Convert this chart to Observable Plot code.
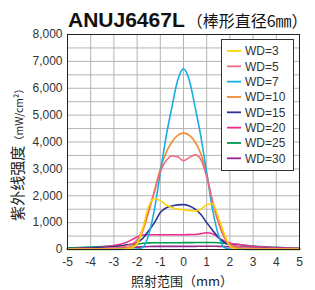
<!DOCTYPE html>
<html>
<head>
<meta charset="utf-8">
<script src="https://cdn.jsdelivr.net/npm/d3@7"></script>
<script src="https://cdn.jsdelivr.net/npm/@observablehq/plot@0.6"></script>
<style>
html,body{margin:0;padding:0;background:#fff;}
#chart{width:315px;height:290px;}
</style>
</head>
<body>
<div id="chart"></div>
<script>
const xs = [-5,-4.5,-4,-3.5,-3,-2.5,-2.25,-2,-1.75,-1.5,-1.25,-1,-0.75,-0.5,-0.25,0,0.25,0.5,0.75,1,1.25,1.5,1.75,2,2.25,2.5,3,3.5,4,4.5,5];
const wd3  = [5,5,5,5,10,20,50,200,800,1600,1900,1820,1660,1560,1500,1480,1450,1430,1500,1660,1710,1200,600,120,20,10,5,5,5,5,5];
const wd5  = [20,25,30,40,60,120,200,350,780,1450,2150,2900,3300,3480,3450,3300,3420,3520,3350,2700,1800,1050,500,200,120,80,50,40,30,25,20];
const wd7  = [5,5,5,5,5,8,10,15,80,550,1500,2850,4200,5300,6300,6720,6300,5300,4200,2850,1500,550,80,15,10,8,5,5,5,5,5];
const wd10 = [10,10,15,20,30,50,100,250,700,1400,2200,3000,3600,4000,4250,4330,4250,4000,3550,2800,1800,1000,450,150,60,40,25,20,15,10,10];
const wd15 = [30,40,50,70,100,160,200,260,420,700,1000,1380,1550,1620,1660,1670,1620,1500,1300,1000,720,450,270,170,120,90,60,45,35,30,25];
const wd20 = [30,45,60,90,150,250,350,470,540,550,550,550,550,550,550,550,555,560,590,625,590,450,320,240,200,170,120,90,70,55,45];
const wd25 = [60,75,90,110,130,160,180,200,230,245,250,250,250,250,250,255,255,258,260,262,260,250,230,210,190,170,130,100,80,60,50];
const wd30 = [20,25,30,40,50,65,75,90,100,110,115,115,115,118,118,118,118,118,120,120,120,118,110,100,90,80,60,45,35,28,25];
const seriesNames = ["WD=3","WD=5","WD=7","WD=10","WD=15","WD=20","WD=25","WD=30"];
const seriesValues = [wd3,wd5,wd7,wd10,wd15,wd20,wd25,wd30];
const seriesColors = ["#ffd200","#f06a82","#1aaee0","#f28a30","#2e3192","#ec2d8c","#009a50","#92278f"];
const yTicks = [0,1000,2000,3000,4000,5000,6000,7000,8000];
const yGrid = d3.range(0, 8001, 500);
const xTicks = [-5,-4,-3,-2,-1,0,1,2,3,4,5];
const titleMain = "ANUJ6467L";
const titleSub = "（棒形直径6㎜）";
const yLabelMain = "紫外线强度";
const yLabelUnit = "（mW/cm²）";
const xLabel = "照射范围（mm）";

const rows = [];
seriesNames.forEach((name, i) => {
  xs.forEach((x, j) => rows.push({series: name, x, y: seriesValues[i][j]}));
});
const drawOrder = seriesNames.slice().reverse();

const marks = [
  Plot.gridY(yGrid, {stroke: "#b4b4b4", strokeOpacity: 1, strokeWidth: 1}),
  Plot.gridX(xTicks, {stroke: "#b4b4b4", strokeOpacity: 1, strokeWidth: 1}),
  ...drawOrder.map(name => Plot.line(rows.filter(r => r.series === name), {
    x: "x", y: "y", stroke: seriesColors[seriesNames.indexOf(name)], strokeWidth: 1.6, curve: "monotone-x"
  })),
  Plot.frame({stroke: "#222", strokeWidth: 1}),
  Plot.axisY(yTicks, {tickSize: 0, tickPadding: 5, tickFormat: d3.format(","), fontSize: 12, color: "#333"}),
  Plot.axisX(xTicks, {tickSize: 0, tickPadding: 8, tickFormat: d => String(d), fontSize: 12, color: "#333"})
];

const chart = Plot.plot({
  width: 315,
  height: 290,
  marginTop: 34,
  marginBottom: 41,
  marginLeft: 67,
  marginRight: 16,
  style: {fontFamily: "'Liberation Sans', Arial, sans-serif", fontSize: "12px", color: "#333", background: "#fff"},
  x: {domain: [-5, 5], label: null},
  y: {domain: [0, 8000], label: null},
  marks
});

const svg = d3.select(chart);
// title
const t = svg.append("text").attr("x", 68).attr("y", 27).attr("fill", "#111").attr("text-anchor", "start");
t.append("tspan").text(titleMain).attr("font-family", "'Liberation Sans', Arial, sans-serif").attr("font-weight", "bold").attr("font-size", 21);
t.append("tspan").text(titleSub).attr("font-family", "'Noto Sans CJK SC', sans-serif").attr("font-size", 16).attr("dx", 2);
// y label
const yl = svg.append("text").attr("transform", "translate(23,152) rotate(-90)").attr("text-anchor", "middle").attr("fill", "#222");
yl.append("tspan").text(yLabelMain).attr("font-family", "'Noto Sans CJK SC', sans-serif").attr("font-size", 15);
yl.append("tspan").text(yLabelUnit).attr("font-family", "'Noto Sans CJK SC', sans-serif").attr("font-size", 10.5);
// x label
svg.append("text").attr("x", 182).attr("y", 286).attr("text-anchor", "middle").attr("fill", "#222")
  .attr("font-family", "'Noto Sans CJK SC', sans-serif").attr("font-size", 13).text(xLabel);
// legend
const lg = svg.append("g");
lg.append("rect").attr("x", 221.5).attr("y", 39.5).attr("width", 72).attr("height", 131)
  .attr("fill", "#fff").attr("stroke", "#333").attr("stroke-width", 1);
seriesNames.forEach((name, i) => {
  const yy = 51 + i * 15.33;
  lg.append("line").attr("x1", 227).attr("x2", 241).attr("y1", yy).attr("y2", yy)
    .attr("stroke", seriesColors[i]).attr("stroke-width", 1.8);
  lg.append("text").attr("x", 245).attr("y", yy).attr("dy", "0.36em").attr("fill", "#333").attr("text-anchor", "start")
    .attr("font-family", "'Liberation Sans', Arial, sans-serif").attr("font-size", 12).text(name);
});

document.getElementById("chart").appendChild(chart);
</script>
</body>
</html>
